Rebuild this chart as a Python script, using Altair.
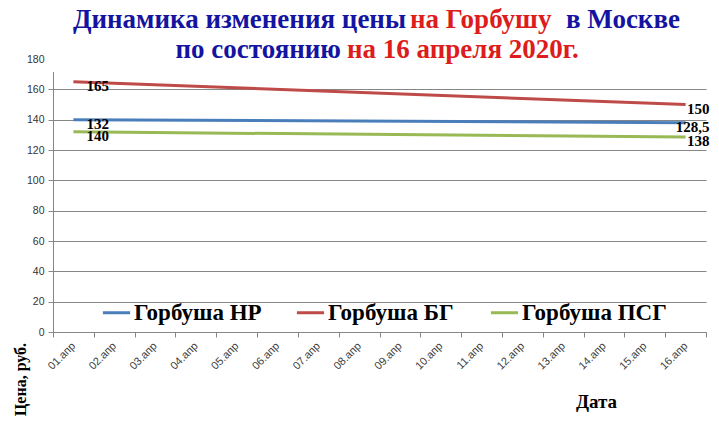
import altair as alt
import pandas as pd

dates = ["01.апр", "02.апр", "03.апр", "04.апр", "05.апр", "06.апр", "07.апр", "08.апр",
         "09.апр", "10.апр", "11.апр", "12.апр", "13.апр", "14.апр", "15.апр", "16.апр"]
series = ["Горбуша НР", "Горбуша БГ", "Горбуша ПСГ"]
colors = ["#4a7ebb", "#be4b48", "#98b954"]
point_dates = ["01.апр", "16.апр"]
values_nr = [140, 138]
values_bg = [165, 150]
values_psg = [132, 128.5]
labels_nr = ["132", "128,5"]
labels_bg = ["165", "150"]
labels_psg = ["140", "138"]
y_ticks = [0, 20, 40, 60, 80, 100, 120, 140, 160, 180]

title_l1 = ["Динамика изменения цены", "на Горбушу", "в Москве"]
title_l2 = ["по состоянию", "на 16 апреля 2020г."]
y_title = "Цена, руб."
x_title = "Дата"

rows = []
for s, vals, labs in [(series[0], values_nr, labels_nr),
                      (series[1], values_bg, labels_bg),
                      (series[2], values_psg, labels_psg)]:
    for i, d in enumerate(point_dates):
        rows.append({"series": s, "date": d, "value": vals[i], "label": labs[i],
                     "end": "start" if i == 0 else "end"})
df = pd.DataFrame(rows)

W, H = 653, 273
BLUE = "#1414a0"
RED = "#dd1c1c"
SERIF = "Liberation Serif"

x_enc = alt.X("date:O", sort=dates, bandPosition=0.5,
              scale=alt.Scale(type="band", domain=dates, paddingInner=0, paddingOuter=0),
              axis=alt.Axis(title=x_title, labelAngle=315, labelAlign="right", labelBaseline="middle",
                            labelFont="Liberation Sans", labelFontSize=11, labelColor="#404040",
                            labelPadding=7, tickBand="extent", tickSize=5, tickColor="#868686",
                            domainColor="#868686", grid=False, labelOverlap=False,
                            titleFont=SERIF, titleFontWeight="bold", titleFontSize=19,
                            titleColor="black", titleX=543, titleY=69,
                            titleAlign="center", titleBaseline="middle"))
y_enc = alt.Y("value:Q", scale=alt.Scale(domain=[0, 180], nice=False, zero=True),
              axis=alt.Axis(title=y_title, values=y_ticks, tickCount=20, grid=True,
                            gridColor="#868686", labelOverlap=False,
                            labelFont="Liberation Sans", labelFontSize=10.5, labelColor="#333333",
                            labelPadding=4, tickSize=5, tickColor="#868686", domainColor="#868686",
                            titleFont=SERIF, titleFontWeight="bold", titleFontSize=16,
                            titleColor="black", titleAngle=270, titleX=-33, titleY=320,
                            titleAlign="center", titleBaseline="middle"))
color_enc = alt.Color("series:N", sort=series,
                      scale=alt.Scale(domain=series, range=colors),
                      legend=alt.Legend(title=None, orient="none", direction="horizontal",
                                        legendX=48, legendY=238, symbolType="stroke",
                                        symbolSize=740, symbolStrokeWidth=3, labelOffset=2,
                                        labelFont=SERIF, labelFontWeight="bold", labelFontSize=23,
                                        labelColor="black", gridAlign="all", columnPadding=11,
                                        padding=0, labelLimit=400))

base = alt.Chart(df)
lines = base.mark_line(strokeWidth=3).encode(x=x_enc, y=y_enc, color=color_enc,
                                              detail="series:N")

lab_start = base.transform_filter(alt.datum.end == "start").mark_text(
    align="left", baseline="middle", dx=13, dy=4, font=SERIF, fontWeight="bold",
    fontSize=15, color="black").encode(x=x_enc, y=y_enc, text="label:N")
lab_end = base.transform_filter(alt.datum.end == "end").mark_text(
    align="right", baseline="middle", dx=24, dy=4, font=SERIF, fontWeight="bold",
    fontSize=15, color="black").encode(x=x_enc, y=y_enc, text="label:N")

one = alt.Data(values=[{}])
cover = alt.Chart(one).mark_rect(color="white").encode(
    x=alt.value(-6), x2=alt.value(W + 2), y=alt.value(-59), y2=alt.value(13))


def seg(text, color, xpos, ypos, align):
    return alt.Chart(one).mark_text(text=text, align=align, baseline="alphabetic", font=SERIF,
                                    fontWeight="bold", fontSize=27, color=color).encode(
        x=alt.value(xpos), y=alt.value(ypos))


OX, OY = 53, 59
titles = [
    seg(title_l1[0], BLUE, 406 - OX, 28 - OY, "right"),
    seg(title_l1[1], RED, 410 - OX, 28 - OY, "left"),
    seg(title_l1[2], BLUE, 680 - OX, 28 - OY, "right"),
    seg(title_l2[0], BLUE, 341 - OX, 58 - OY, "right"),
    seg(title_l2[1], RED, 347 - OX, 58 - OY, "left"),
]

chart = alt.layer(lines, lab_start, lab_end, cover, *titles).resolve_scale(
    x="shared", y="shared").properties(
    width=W, height=H,
    autosize=alt.AutoSizeParams(type="none"),
    padding={"left": 45, "top": 51, "right": 5, "bottom": 86},
    background="white",
).configure_view(stroke=None)

chart.save("out.html", embed_options={"renderer": "svg", "actions": False})
